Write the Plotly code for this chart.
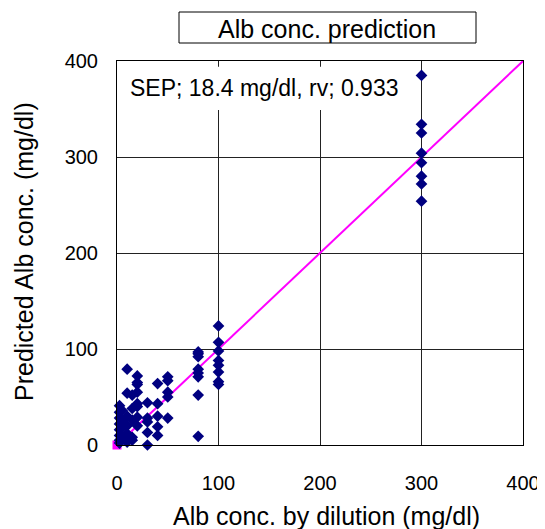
import plotly.graph_objects as go

# Reference dilution levels and predicted values
x_levels = [2.5, 5, 10, 15, 20, 30, 40, 50, 80, 100, 300]
pred_2_5 = [41, 34, 28, 22, 16, 10, 5, 2]
pred_5 = [36, 25, 18, 8]
pred_10 = [79, 54, 30, 20, 12, 6, 3]
pred_15 = [52, 38, 26, 8, 5]
pred_20 = [72, 65, 63, 55, 43, 40, 29, 20]
pred_30 = [44, 28, 24, 13, 0]
pred_40 = [64, 43, 30, 19, 10]
pred_50 = [71, 67, 55, 50, 28]
pred_80 = [97, 95, 92, 79, 75, 71, 52, 9]
pred_100 = [124, 107, 98, 88, 83, 76, 66, 63]
pred_300 = [385, 334, 325, 304, 294, 280, 272, 254]
groups = [pred_2_5, pred_5, pred_10, pred_15, pred_20, pred_30, pred_40,
          pred_50, pred_80, pred_100, pred_300]

ident_x = [0, 400]
ident_y = [0, 400]
tick_vals = [0, 100, 200, 300, 400]

xs, ys = [], []
for xv, g in zip(x_levels, groups):
    for yv in g:
        xs.append(xv)
        ys.append(yv)

fig = go.Figure()
fig.add_trace(go.Scatter(x=ident_x, y=ident_y, mode="lines",
                         line=dict(color="#FF00FF", width=2), showlegend=False,
                         cliponaxis=False))
fig.add_trace(go.Scatter(x=[ident_x[0]], y=[ident_y[0]], mode="markers",
                         marker=dict(symbol="square", color="#FF00FF", size=9),
                         showlegend=False, cliponaxis=False))
fig.add_trace(go.Scatter(x=xs, y=ys, mode="markers",
                         marker=dict(symbol="diamond", color="#000080", size=9,
                                     line=dict(width=0)),
                         showlegend=False, cliponaxis=False))

font = "Liberation Sans, Arial, sans-serif"
axis_common = dict(range=[0, 400], tickvals=tick_vals, showgrid=True,
                   gridcolor="#222", gridwidth=1, showline=True, linecolor="black",
                   linewidth=1, mirror=True, zeroline=False, ticks="",
                   automargin=False,
                   tickfont=dict(family=font, size=20, color="black"))

OFF = 8  # page body margin
W, H = 545 - OFF, 529 - OFF
L, T = 117 - OFF, 61 - OFF
R = W - (523 - OFF)
B = H - (445 - OFF)
pw, ph = W - L - R, H - T - B


def px(x):
    return (x - OFF - L) / pw


def py(y):
    return (H - B - (y - OFF)) / ph


fig.update_layout(
    width=W, height=H,
    margin=dict(l=L, r=R, t=T, b=B),
    paper_bgcolor="white", plot_bgcolor="white",
    xaxis=dict(**axis_common, ticklabelstandoff=20),
    yaxis=dict(**axis_common, ticklabelstandoff=14),
    shapes=[
        dict(type="rect", xref="x", yref="y", x0=0, x1=293, y0=349, y1=394,
             fillcolor="white", line=dict(width=0), layer="between"),
        dict(type="rect", xref="paper", yref="paper",
             x0=px(179), x1=px(476), y0=py(43), y1=py(12),
             line=dict(color="black", width=1), fillcolor="white"),
    ],
    annotations=[
        dict(text="Alb conc. prediction", xref="paper", yref="paper",
             x=px(327), y=py(29), showarrow=False,
             xanchor="center", yanchor="middle",
             font=dict(family=font, size=25, color="black")),
        dict(text="SEP; 18.4 mg/dl, rv; 0.933", xref="paper", yref="paper",
             x=px(128), y=py(88), showarrow=False, xanchor="left",
             yanchor="middle", font=dict(family=font, size=23, color="black")),
        dict(text="Alb conc. by dilution (mg/dl)", xref="paper", yref="paper",
             x=px(326), y=py(516), showarrow=False,
             xanchor="center", yanchor="middle",
             font=dict(family=font, size=25, color="black")),
        dict(text="Predicted Alb conc. (mg/dl)", xref="paper", yref="paper",
             x=px(24), y=py(252), showarrow=False,
             xanchor="center", yanchor="middle", textangle=-90,
             font=dict(family=font, size=25, color="black")),
    ],
)

fig.write_html("out.html")
